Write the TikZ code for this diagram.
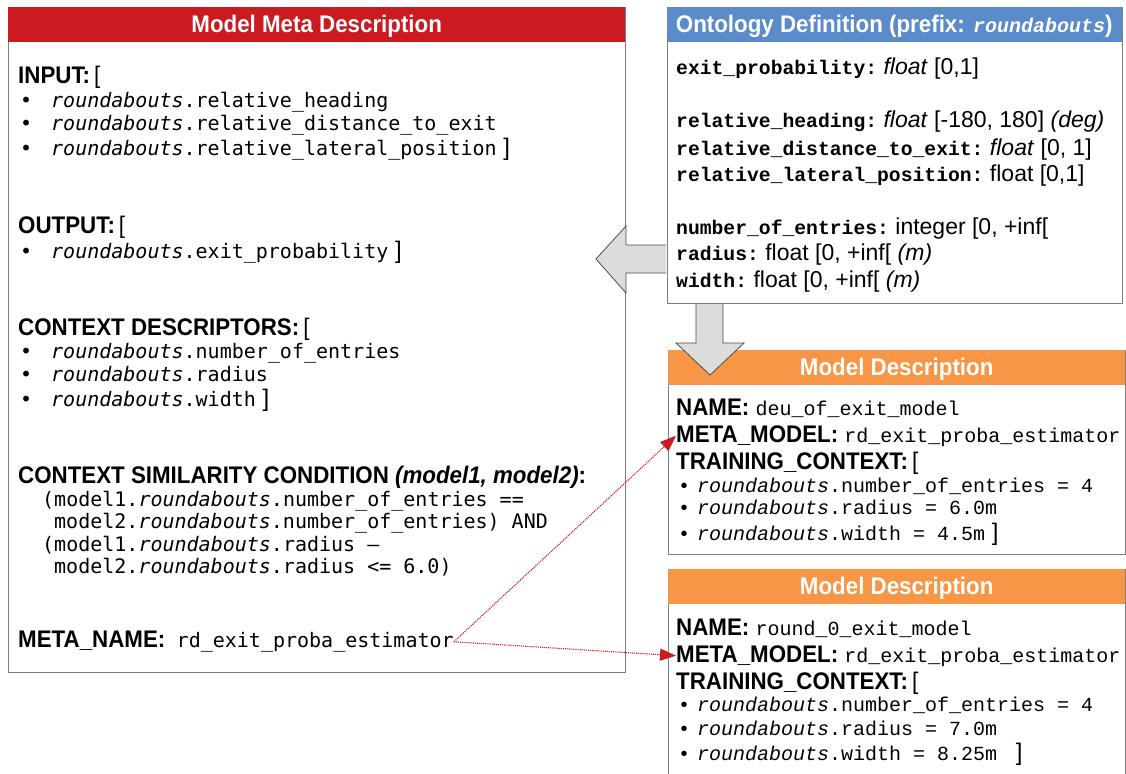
\documentclass[tikz,border=0pt]{standalone}
\usepackage{fontspec}
\setmainfont{Liberation Sans}
\newfontfamily\condsans[FakeStretch=0.93]{Liberation Sans}
\newfontfamily\lmono{DejaVu Sans Mono}
\newfontfamily\rmono{Liberation Mono}
\usetikzlibrary{arrows.meta, positioning}

\definecolor{metared}{HTML}{CC1A21}
\definecolor{ontoblue}{HTML}{5B8BC8}
\definecolor{descorange}{HTML}{F79646}
\definecolor{frame}{HTML}{7F7F7F}
\definecolor{blockgray}{HTML}{DCDCDC}

\newcommand{\rb}{\textit{roundabouts}}
\newcommand{\bul}[1]{\makebox[#1][l]{\textbullet}}
\newcommand{\rbr}{{\rmfamily\fontsize{24}{28}\selectfont\ ]}}
\newcommand{\lbr}{{\mdseries\,[}}
\newcommand{\val}[1]{{\rmfamily\mdseries\fontsize{23}{27}\selectfont #1}}
\newcommand{\mval}[1]{{\rmono\mdseries\fontsize{20}{24}\selectfont #1}}

\begin{document}
\begin{tikzpicture}[x=1pt, y=-1pt, >=Stealth,
      box/.style={draw=frame, line width=1pt, fill=white, anchor=north west, inner sep=0pt},
      head/.style={fill=#1, anchor=north west, inner sep=0pt, minimum height=35pt,
                   text=white, text depth=2pt, font=\condsans\bfseries\fontsize{24}{28}\selectfont},
      line/.style={anchor=base west, inner sep=0pt},
      lab/.style={line, font=\condsans\bfseries\fontsize{24}{28}\selectfont},
      litem/.style={line, font=\lmono\fontsize{20}{24}\selectfont},
      ritem/.style={line, font=\rmono\fontsize{20}{24}\selectfont},
      onto/.style={line, font=\rmono\bfseries\fontsize{19.7}{24}\selectfont},
      block/.style={fill=blockgray, draw=black!70, line width=0.8pt},
      link/.style={->, densely dotted, color=metared, line width=1.1pt,
                   >={Triangle[length=16pt, width=12pt]}}]

    \path[use as bounding box, fill=white] (0,0) rectangle (1126,773);

    % Model meta description (left)
    \node[box, minimum width=617pt, minimum height=665pt] (meta) at (8,7) {};
    \node[head=metared, minimum width=617pt] (metahead) at (8,7) {Model Meta Description};

    \node[lab]   (input) at (18,84)  {INPUT:\lbr};
    \node[litem] (in1)   at (20,107) {\bul{31pt}\rb.relative\_heading};
    \node[litem] (in2)   at (20,130) {\bul{31pt}\rb.relative\_distance\_to\_exit};
    \node[litem] (in3)   at (20,155) {\bul{31pt}\rb.relative\_lateral\_position\rbr};

    \node[lab]   (output) at (18,233) {OUTPUT:\lbr};
    \node[litem] (out1)   at (20,258) {\bul{31pt}\rb.exit\_probability\rbr};

    \node[lab]   (ctx)  at (18,335) {CONTEXT DESCRIPTORS:\lbr};
    \node[litem] (ctx1) at (20,358) {\bul{31pt}\rb.number\_of\_entries};
    \node[litem] (ctx2) at (20,381) {\bul{31pt}\rb.radius};
    \node[litem] (ctx3) at (20,406) {\bul{31pt}\rb.width\rbr};

    \node[lab]   (sim)  at (18,483) {CONTEXT SIMILARITY CONDITION \textit{(model1, model2)}:};
    \node[litem] (sim1) at (42,506) {(model1.\rb.number\_of\_entries ==};
    \node[litem] (sim2) at (54,528) {model2.\rb.number\_of\_entries) AND};
    \node[litem] (sim3) at (42,551) {(model1.\rb.radius –};
    \node[litem] (sim4) at (54,573) {model2.\rb.radius <= 6.0)};

    \node[lab] (metaname) at (18,647) {META\_NAME:};
    \node[litem] (metaval) at ([xshift=11pt]metaname.base east) {rd\_exit\_proba\_estimator};

    % Ontology definition (top right)
    \node[box, minimum width=455pt, minimum height=296pt] (ont) at (666.5,7) {};
    \node[head=ontoblue, minimum width=455pt] (onthead) at (666.5,7)
         {Ontology Definition (prefix: {\rmono\itshape\fontsize{20}{24}\selectfont roundabouts})};

    \node[onto] (exitp) at (676,75)  {exit\_probability:\val{\ \textit{float} [0,1]}};
    \node[onto] (relh)  at (676,128) {relative\_heading:\val{\ \textit{float} [-180, 180] \textit{(deg)}}};
    \node[onto] (reld)  at (676,155) {relative\_distance\_to\_exit:\val{\ \textit{float} [0, 1]}};
    \node[onto] (rell)  at (676,181) {relative\_lateral\_position:\val{\ float [0,1]}};
    \node[onto] (nent)  at (676,234) {number\_of\_entries:\val{\ integer [0, +inf[}};
    \node[onto] (rad)   at (676,260) {radius:\val{\ float [0, +inf[ \textit{(m)}}};
    \node[onto] (wid)   at (676,287) {width:\val{\ float [0, +inf[ \textit{(m)}}};

    % Model descriptions (right)
    \node[box, minimum width=457pt, minimum height=204pt] (desc1) at (668,350) {};
    \node[head=descorange, minimum width=457pt] (deschead1) at (668,350) {Model Description};
    \node[lab]   (name1) at (676,415) {NAME: \mval{deu\_of\_exit\_model}};
    \node[lab]   (mm1)   at (676,442) {META\_MODEL: \mval{rd\_exit\_proba\_estimator}};
    \node[lab]   (tc1)   at (676,469) {TRAINING\_CONTEXT:\lbr};
    \node[ritem] (tca1)  at (678,492) {\bul{19pt}\rb.number\_of\_entries = 4};
    \node[ritem] (tcb1)  at (678,514) {\bul{19pt}\rb.radius = 6.0m};
    \node[ritem] (tcc1)  at (678,540) {\bul{19pt}\rb.width = 4.5m\rbr};

    \node[box, minimum width=457pt, minimum height=215pt] (desc2) at (668,569) {};
    \node[head=descorange, minimum width=457pt] (deschead2) at (668,569) {Model Description};
    \node[lab]   (name2) at (676,635) {NAME: \mval{round\_0\_exit\_model}};
    \node[lab]   (mm2)   at (676,662) {META\_MODEL: \mval{rd\_exit\_proba\_estimator}};
    \node[lab]   (tc2)   at (676,689) {TRAINING\_CONTEXT:\lbr};
    \node[ritem] (tca2)  at (678,711) {\bul{19pt}\rb.number\_of\_entries = 4};
    \node[ritem] (tcb2)  at (678,735) {\bul{19pt}\rb.radius = 7.0m};
    \node[ritem] (tcc2)  at (678,760) {\bul{19pt}\rb.width = 8.25m \rbr};

    % Block arrows
    \draw[block] (666,245) -- (626,245) -- (626,226) -- (596,259)
                 -- (626,293) -- (626,273) -- (666,273);
    \draw[block] (696,304) -- (696,343) -- (676,343) -- (710,375)
                 -- (744,343) -- (723,343) -- (723,304);

    % Meta name links
    \draw[link] (metaval.east) -- (mm1.west);
    \draw[link] (metaval.east) -- (mm2.west);

\end{tikzpicture}
\end{document}
